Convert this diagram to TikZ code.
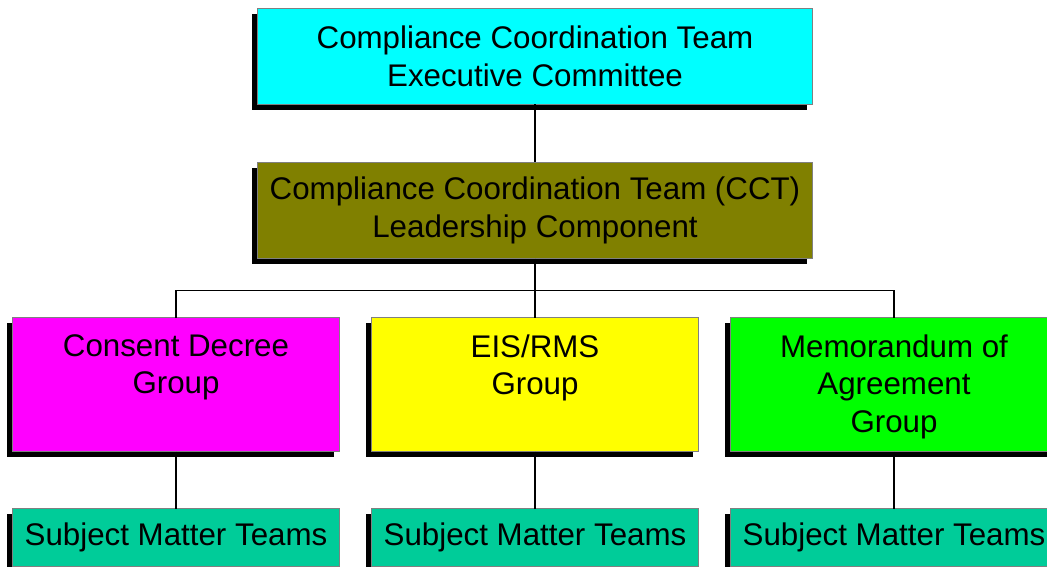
\documentclass[tikz,border=0pt]{standalone}
\usepackage{fontspec}
\setmainfont{Liberation Sans}
\usetikzlibrary{positioning,shadows}
\definecolor{execcyan}{RGB}{0,255,255}
\definecolor{leadolive}{RGB}{128,128,0}
\definecolor{cdmagenta}{RGB}{255,0,255}
\definecolor{eisyellow}{RGB}{255,255,0}
\definecolor{moagreen}{RGB}{0,255,0}
\definecolor{smtgreen}{RGB}{0,204,153}

\begin{document}
\begin{tikzpicture}[x=1pt,y=-1pt,
box/.style={draw=gray,line width=1.5pt,inner sep=0pt,outer sep=0pt,align=center,font=\fontsize{31.3}{37.5}\selectfont,
  minimum width=555pt,minimum height=96pt,
  drop shadow={shadow xshift=-5.5pt,shadow yshift=-5.5pt,fill=black,opacity=1}},
grp/.style={box,minimum width=327pt,minimum height=134pt,inner ysep=17pt},
smt/.style={box,minimum width=327pt,minimum height=58pt,fill=smtgreen},
wire/.style={line width=1.3pt,black}]
\useasboundingbox (0,0) rectangle (1047,567);
\node[box,fill=execcyan] (exec) at (535,56.5) {Compliance Coordination Team\\Executive Committee};
\node[box,fill=leadolive,below=58pt of exec] (lead) {Compliance Coordination Team (CCT)\\Leadership Component};
\node[grp,fill=eisyellow,below=59pt of lead] (eis) {\parbox[t][100pt][t]{327pt}{\centering EIS/RMS\\Group}};
\node[grp,fill=cdmagenta,left=32pt of eis] (cd) {\parbox[t][100pt][t]{327pt}{\centering Consent Decree\\Group}};
\node[grp,fill=moagreen,right=32pt of eis] (moa) {\parbox[t][100pt][t]{327pt}{\centering Memorandum of\\Agreement\\Group}};
\coordinate[below=32pt of lead] (bus);
\draw[wire] (exec) -- (lead);
\draw[wire] (lead) -- (bus) -| (cd.north);
\draw[wire] (bus) -| (moa.north);
\draw[wire] (bus) -- (eis.north);
\foreach \g in {cd,eis,moa}{
\node[smt,below=57pt of \g] (\g smt) {Subject Matter Teams};
\draw[wire] (\g) -- (\g smt);
}
\end{tikzpicture}
\end{document}
